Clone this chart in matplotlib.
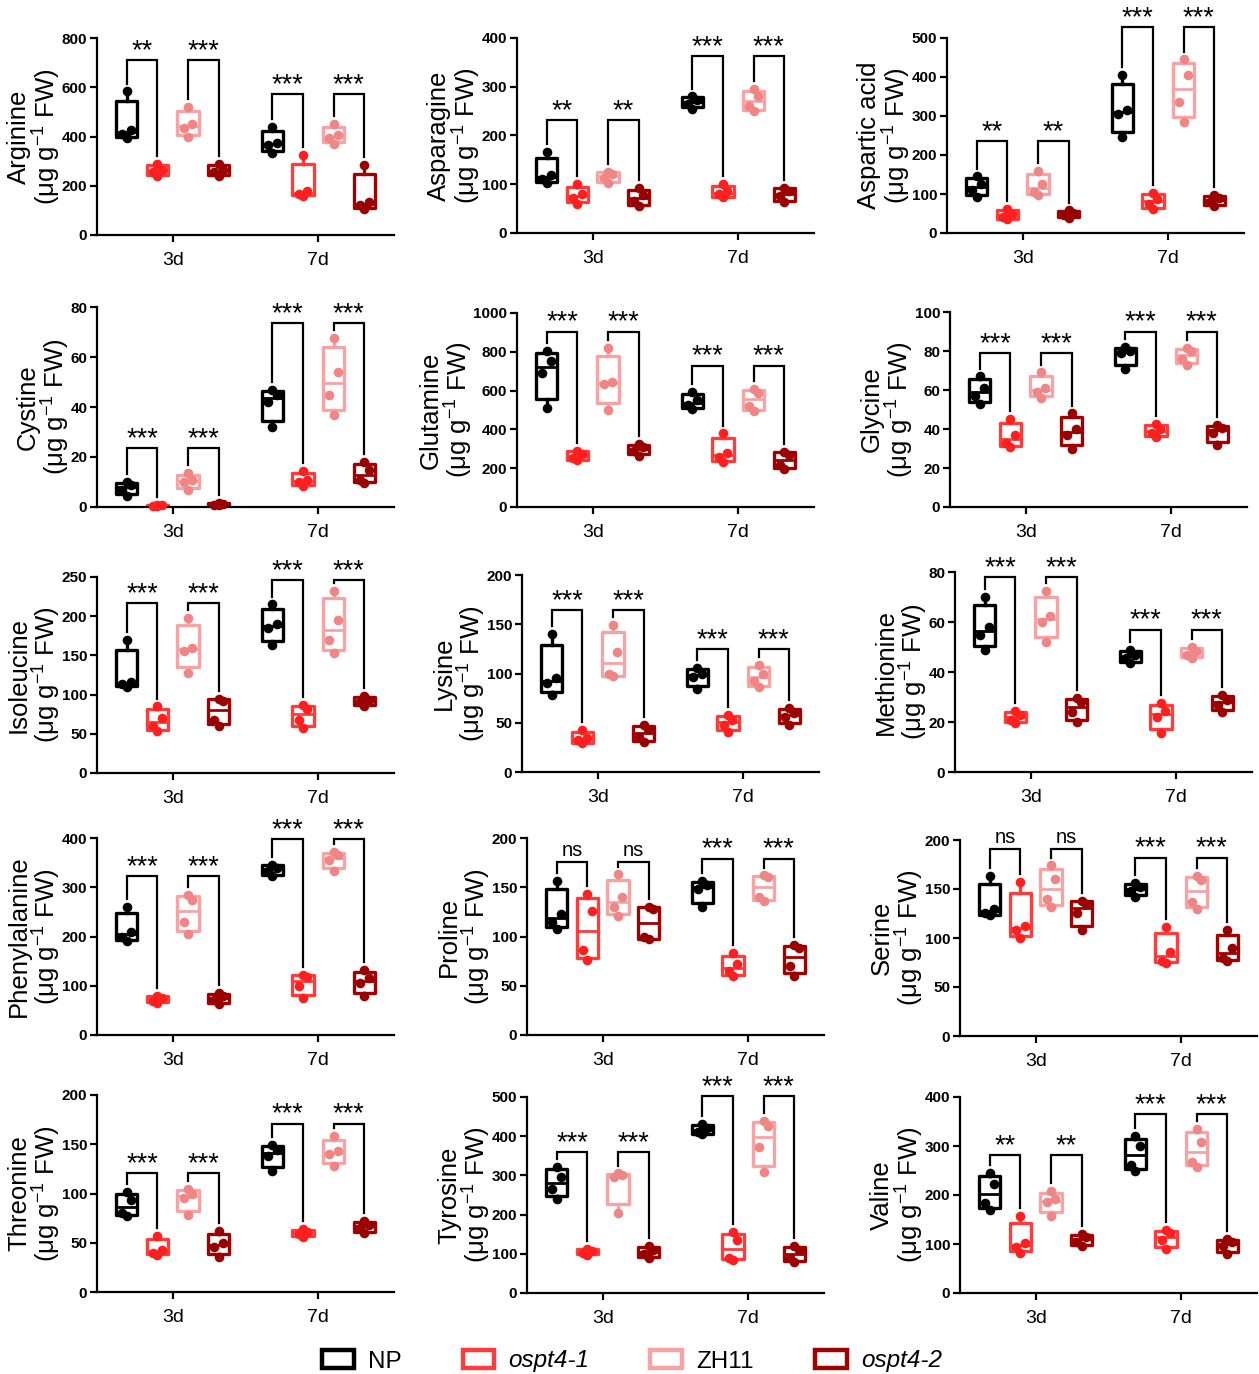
import numpy as np
import matplotlib
matplotlib.use("Agg")
import matplotlib.pyplot as plt
from matplotlib.patches import Patch

plt.rcParams['font.family'] = ['Liberation Sans', 'DejaVu Sans']
plt.rcParams['mathtext.fontset'] = 'custom'
plt.rcParams['mathtext.rm'] = 'Liberation Sans'
plt.rcParams['mathtext.it'] = 'Liberation Sans:italic'

# ---- data (4 replicates per box; order NP, ospt4-1, ZH11, ospt4-2) ----
genotypes = ['NP', 'ospt4-1', 'ZH11', 'ospt4-2']
times = ['3d', '7d']
amino_acids = ['Arginine', 'Asparagine', 'Aspartic acid',
               'Cystine', 'Glutamine', 'Glycine',
               'Isoleucine', 'Lysine', 'Methionine',
               'Phenylalanine', 'Proline', 'Serine',
               'Threonine', 'Tyrosine', 'Valine']
y_max = [800, 400, 500, 80, 1000, 100, 250, 200, 80, 400, 200, 200, 200, 500, 400]
y_step = [200, 100, 100, 20, 200, 20, 50, 50, 20, 100, 50, 50, 50, 100, 100]

arginine = [
    [[392, 410, 425, 583], [238, 255, 262, 290], [398, 435, 450, 520], [240, 255, 265, 290]],
    [[335, 365, 375, 440], [160, 165, 180, 325], [370, 395, 405, 450], [105, 120, 135, 285]],
]
asparagine = [
    [[103, 110, 118, 166], [60, 72, 80, 100], [102, 112, 120, 126], [55, 65, 78, 92]],
    [[255, 265, 272, 280], [73, 80, 86, 100], [250, 260, 282, 295], [63, 75, 87, 93]],
]
aspartic_acid = [
    [[93, 110, 125, 145], [35, 42, 48, 62], [98, 105, 125, 160], [38, 45, 52, 58]],
    [[245, 305, 315, 405], [62, 75, 88, 103], [285, 335, 405, 445], [68, 80, 90, 97]],
]
cystine = [
    [[4.5, 7, 9, 10], [0.3, 0.5, 0.7, 0.9], [7, 10, 11, 13.5], [0.8, 1.0, 1.3, 1.8]],
    [[32, 42, 45, 47], [8.5, 10, 11, 14.5], [37, 45, 54, 67.5], [9.5, 11, 15, 18]],
]
glutamine = [
    [[510, 690, 755, 805], [240, 255, 275, 290], [500, 635, 645, 820], [265, 290, 310, 325]],
    [[505, 525, 550, 595], [230, 260, 280, 380], [495, 520, 590, 610], [195, 215, 270, 285]],
]
glycine = [
    [[53, 57, 61, 67], [31, 33, 37, 45], [56, 59, 61, 69], [30, 37, 40, 48]],
    [[71, 79, 80, 82], [36, 38, 40, 42.5], [73, 76, 80, 81.5], [32, 38, 40.5, 42]],
]
isoleucine = [
    [[110, 113, 116, 170], [53, 60, 70, 85], [128, 156, 160, 198], [60, 68, 92, 95]],
    [[163, 185, 190, 215], [57, 68, 82, 87], [153, 170, 195, 232], [85, 90, 93, 98]],
]
lysine = [
    [[78, 90, 95, 140], [29, 32, 35, 43], [97, 100, 122, 149], [30, 36, 44, 48]],
    [[84, 96, 100, 106], [41, 48, 53, 58], [86, 92, 100, 109], [48, 56, 60, 65]],
]
methionine = [
    [[49, 55, 58, 70], [19.5, 21, 23, 24.5], [52, 60, 62.5, 72.5], [20, 24, 28, 29.5]],
    [[43.5, 45.5, 47, 49], [15.5, 22, 24.5, 27.5], [45.5, 47, 48.5, 50], [24, 27, 29, 31]],
]
phenylalanine = [
    [[190, 200, 210, 260], [65, 70, 75, 80], [205, 230, 275, 285], [63, 72, 80, 85]],
    [[322, 333, 340, 346], [75, 100, 118, 122], [333, 355, 365, 372], [80, 105, 115, 132]],
]
proline = [
    [[108, 115, 123, 156], [76, 86, 126, 143], [121, 130, 140, 163], [97, 100, 128, 130]],
    [[130, 148, 152, 156], [60, 65, 72, 83], [136, 140, 160, 162], [60, 70, 88, 91]],
]
serine = [
    [[123, 126, 130, 163], [100, 108, 112, 157], [132, 140, 160, 174], [108, 126, 135, 138]],
    [[142, 148, 152, 156], [75, 77, 86, 111], [130, 137, 159, 163], [77, 80, 90, 108]],
]
threonine = [
    [[77, 80, 93, 102], [38, 40, 43, 57], [78, 95, 99, 105], [36, 46, 50, 62]],
    [[123, 138, 144, 149], [56, 59, 61, 64], [128, 140, 143, 158], [60, 65, 68, 72]],
]
tyrosine = [
    [[240, 265, 295, 322], [98, 103, 108, 113], [205, 295, 300, 305], [90, 100, 110, 120]],
    [[405, 410, 420, 432], [85, 90, 135, 155], [308, 372, 425, 440], [78, 90, 110, 120]],
]
valine = [
    [[170, 183, 222, 245], [82, 93, 103, 157], [158, 185, 192, 208], [95, 105, 115, 120]],
    [[250, 262, 300, 320], [90, 108, 122, 128], [258, 268, 308, 335], [80, 95, 105, 110]],
]
values = [arginine, asparagine, aspartic_acid, cystine, glutamine, glycine,
          isoleucine, lysine, methionine, phenylalanine, proline, serine,
          threonine, tyrosine, valine]

# significance: [3d NP vs ospt4-1, 3d ZH11 vs ospt4-2, 7d ..., 7d ...]
signif = [
    ['**', '***', '***', '***'], ['**', '**', '***', '***'], ['**', '**', '***', '***'],
    ['***'] * 4, ['***'] * 4, ['***'] * 4,
    ['***'] * 4, ['***'] * 4, ['***'] * 4,
    ['***'] * 4, ['ns', 'ns', '***', '***'], ['ns', 'ns', '***', '***'],
    ['***'] * 4, ['***'] * 4, ['**', '**', '***', '***'],
]
# bracket heights (3d, 7d)
bracket_y = [[709, 571], [232, 363], [235, 528], [23.5, 73.5], [904, 728],
             [79, 90], [217, 246], [164, 125], [78, 57], [322, 397],
             [176, 179], [191, 182], [121, 171], [360, 502], [281, 365]]

# ---- style ----
colors = ['#000000', '#ff3c3c', '#f7a3a3', '#a00000']
dot_colors = ['#000000', '#ff1f1f', '#f08585', '#990000']
offsets = [-0.315, -0.105, 0.105, 0.315]
jitter = [0.0, -0.03, 0.03, 0.0]
box_w = 0.145

W, H = 1259, 1374
fig = plt.figure(figsize=(W / 100, H / 100), dpi=100)

tops = [[38, 38, 38], [307, 313, 312], [577, 575, 572], [838, 838, 840], [1095, 1097, 1097]]
bottoms = [[235, 233, 233], [507, 507, 507], [773, 772, 772], [1035, 1035, 1036], [1292, 1293, 1293]]
lefts = [[97, 517, 947], [97, 517, 950], [97, 522, 955], [97, 527, 960], [97, 527, 960]]
ax_w = 297


def box_stats(v):
    v = np.sort(np.asarray(v, dtype=float))
    q1, med, q3 = np.percentile(v, [25, 50, 75], method='weibull')
    return dict(med=med, q1=q1, q3=q3, whislo=v[0], whishi=v[-1], fliers=[])


for i, name in enumerate(amino_acids):
    r, c = divmod(i, 3)
    top, bot, left = tops[r][c], bottoms[r][c], lefts[r][c]
    ax = fig.add_axes([left / W, 1 - bot / H, ax_w / W, (bot - top) / H])
    ymax = y_max[i]

    for t in range(2):
        for g in range(4):
            v = np.sort(values[i][t][g])
            pos = t + offsets[g]
            ax.bxp([box_stats(v)], positions=[pos], widths=box_w, showcaps=False,
                   showfliers=False, patch_artist=True,
                   boxprops=dict(facecolor='white', edgecolor=colors[g], linewidth=2.4,
                                 joinstyle='round'),
                   medianprops=dict(color=colors[g], linewidth=2.0),
                   whiskerprops=dict(color=colors[g], linewidth=2.4))
            ax.scatter(pos + np.array(jitter), v, s=48, color=dot_colors[g],
                       zorder=4, clip_on=False, linewidths=0)

        # significance brackets
        gap = 0.04 * ymax
        by = bracket_y[i][t]
        for k, (a, b) in enumerate([(0, 1), (2, 3)]):
            xa, xb = t + offsets[a], t + offsets[b]
            ya = max(values[i][t][a]) + gap
            yb = max(values[i][t][b]) + gap
            ax.plot([xa, xa, xb, xb], [ya, by, by, yb], color='black', lw=1.6,
                    clip_on=False, solid_joinstyle='miter')
            lab = signif[i][2 * t + k]
            if lab == 'ns':
                ax.text((xa + xb) / 2, by + 0.01 * ymax, lab, ha='center', va='bottom',
                        fontsize=14.5, clip_on=False)
            else:
                ax.text((xa + xb) / 2, by - 0.02 * ymax, lab, ha='center', va='bottom',
                        fontsize=19.5, clip_on=False)

    ax.set_xlim(-0.52, 1.52)
    ax.set_ylim(0, ymax)
    ax.set_yticks(np.arange(0, ymax + 1e-9, y_step[i]))
    ax.set_yticklabels([f'{int(v)}' for v in np.arange(0, ymax + 1e-9, y_step[i])],
                       fontsize=11, fontweight='bold')
    ax.set_xticks([0, 1])
    ax.set_xticklabels(times, fontsize=14)
    for s in ['top', 'right']:
        ax.spines[s].set_visible(False)
    for s in ['left', 'bottom']:
        ax.spines[s].set_linewidth(1.6)
    ax.tick_params(axis='both', direction='out', length=5, width=1.6)
    ax.tick_params(axis='x', pad=7)
    ax.tick_params(axis='y', pad=2)
    ax.set_ylabel(f'{name}\n(μg g$^{{-1}}$ FW)', fontsize=18.5, labelpad=-1,
                  linespacing=1.0)

handles = [Patch(facecolor='white', edgecolor=col, linewidth=3.2, joinstyle='round')
           for col in colors]
leg = fig.legend(handles, genotypes, loc='center', bbox_to_anchor=(0.502, 1 - 1361 / H),
                 ncol=4, frameon=False, fontsize=17.5, handlelength=1.3, handleheight=0.75,
                 handletextpad=0.6, columnspacing=2.5)
for txt in leg.get_texts():
    if txt.get_text().startswith('ospt'):
        txt.set_style('italic')

fig.savefig('out.png', dpi=100)
